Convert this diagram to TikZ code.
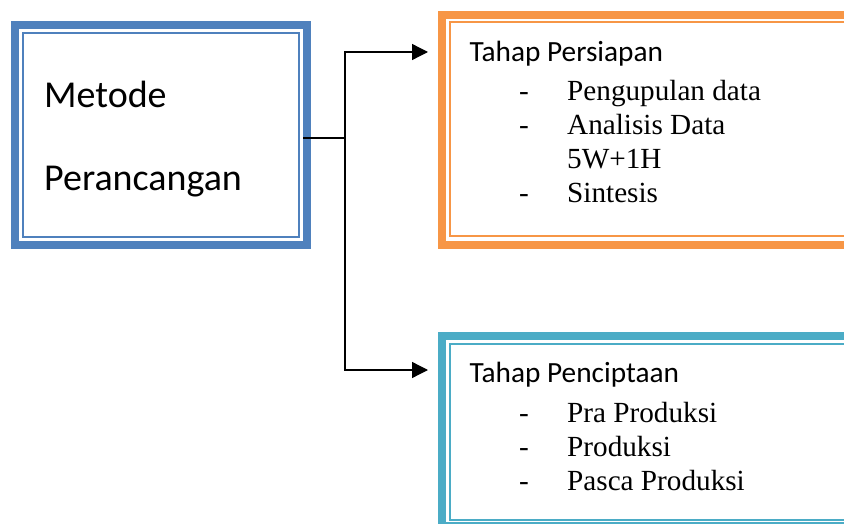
\documentclass[tikz,border=0pt]{standalone}
\usepackage{fontspec}
\setmainfont{Liberation Serif}
\newfontfamily\calibri{Carlito}
\usetikzlibrary{arrows.meta, positioning}
\definecolor{metodeblue}{RGB}{79,129,189}
\definecolor{persiapanorange}{RGB}{247,150,70}
\definecolor{penciptaanteal}{RGB}{75,172,198}
\tikzset{
>={Triangle[length=16pt, width=16pt]}, % big filled arrow heads
stagebox/.style={draw=#1, line width=8pt, inner sep=0pt, outer sep=0pt}, % thick outer frame
innerline/.style={draw=#1, line width=1.6pt}, % thin line inside the frame
bigtext/.style={anchor=base west, inner sep=0pt, font=\calibri\fontsize{38}{40}\selectfont},
headtext/.style={anchor=base west, inner sep=0pt, font=\calibri\fontsize{29.3}{34}\selectfont},
itemtext/.style={anchor=base west, inner sep=0pt, font=\fontsize{29.2}{34}\selectfont},
link/.style={line width=1.3pt}, % the connectors
}

\begin{document}
\begin{tikzpicture}[x=1pt, y=-1pt]
        \path[use as bounding box, clip] (0,0) rectangle (844,524);

        % the three boxes
        \node[stagebox=metodeblue, minimum width=292pt, minimum height=220pt] (metode) at (161,135) {};
        \node[stagebox=persiapanorange, minimum width=418pt, minimum height=230pt] (persiapan) at (651,130) {};
        \node[stagebox=penciptaanteal, minimum width=418pt, minimum height=190pt] (penciptaan) at (651,431) {};

        \draw[innerline=metodeblue] ([shift={(8,8)}]metode.north west) rectangle ([shift={(-8,-8)}]metode.south east);
        \draw[innerline=persiapanorange] ([shift={(8,7)}]persiapan.north west) rectangle ([shift={(-8,-9)}]persiapan.south east);
        \draw[innerline=penciptaanteal] ([shift={(8,8)}]penciptaan.north west) rectangle ([shift={(-8,-6)}]penciptaan.south east);

        % texts
        \node[bigtext] (metode1) at (44,108) {Metode};
        \node[bigtext] (metode2) at (44,191) {Perancangan};

        \node[headtext] (persiapanhead) at (469.5,62) {Tahap Persiapan};
        \node[itemtext] (dash1) at (519,101) {-};
        \node[itemtext] (persiapan1) at (567,101) {Pengupulan data};
        \node[itemtext] (dash2) at (519,135) {-};
        \node[itemtext] (persiapan2) at (567,135) {Analisis Data};
        \node[itemtext] (persiapan3) at (567,169) {5W+1H};
        \node[itemtext] (dash3) at (519,203) {-};
        \node[itemtext] (persiapan4) at (567,203) {Sintesis};

        \node[headtext] (penciptaanhead) at (469.5,382) {Tahap Penciptaan};
        \node[itemtext] (dash4) at (519,422) {-};
        \node[itemtext] (penciptaan1) at (567,422) {Pra Produksi};
        \node[itemtext] (dash5) at (519,456) {-};
        \node[itemtext] (penciptaan2) at (567,456) {Produksi};
        \node[itemtext] (dash6) at (519,490) {-};
        \node[itemtext] (penciptaan3) at (567,490) {Pasca Produksi};

        % connectors
        \coordinate (split) at (345,138);
        \draw[link] ([xshift=-4pt]metode.east |- split) -- (split);
        \draw[link, ->, shorten >=14pt] (split) |- ([yshift=78pt]persiapan.west);
        \draw[link, ->, shorten >=14pt] (split) |- ([yshift=61pt]penciptaan.west);
    \end{tikzpicture}
\end{document}
